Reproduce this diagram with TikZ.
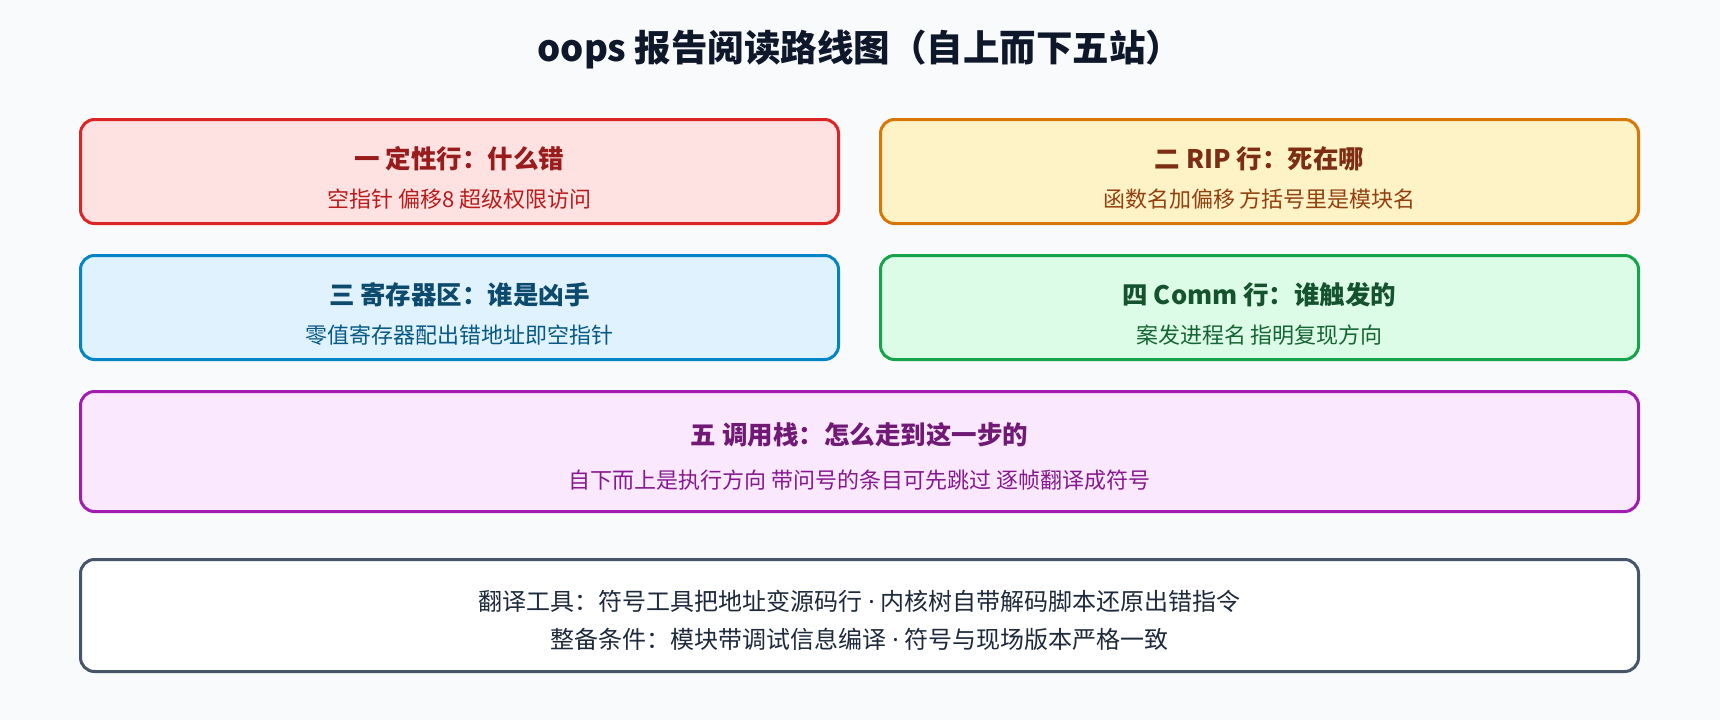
\documentclass[tikz,border=0pt]{standalone}
\usepackage{fontspec}
\setmainfont{Noto Sans CJK SC}
\newfontfamily\latinfont{Noto Sans}
\usetikzlibrary{positioning}

\definecolor{bgpage}{HTML}{F8FAFC}
\definecolor{ink}{HTML}{0F172A}
\definecolor{redline}{HTML}{DC2626}
\definecolor{redfill}{HTML}{FEE2E2}
\definecolor{redhead}{HTML}{991B1B}
\definecolor{rednote}{HTML}{B91C1C}
\definecolor{amberline}{HTML}{D97706}
\definecolor{amberfill}{HTML}{FEF3C7}
\definecolor{amberhead}{HTML}{7C2D12}
\definecolor{ambernote}{HTML}{92400E}
\definecolor{skyline}{HTML}{0284C7}
\definecolor{skyfill}{HTML}{E0F2FE}
\definecolor{skyhead}{HTML}{0C4A6E}
\definecolor{skynote}{HTML}{075985}
\definecolor{greenline}{HTML}{16A34A}
\definecolor{greenfill}{HTML}{DCFCE7}
\definecolor{greenhead}{HTML}{14532D}
\definecolor{greennote}{HTML}{166534}
\definecolor{plumline}{HTML}{A21CAF}
\definecolor{plumfill}{HTML}{FAE8FF}
\definecolor{plumhead}{HTML}{701A75}
\definecolor{plumnote}{HTML}{86198F}
\definecolor{slateline}{HTML}{475569}
\definecolor{slatetext}{HTML}{1E293B}

\newcommand{\middot}{ {\latinfont ·} }

\tikzset{
	card/.style={draw, line width=3pt, rounded corners=14pt, inner sep=0pt},
	halfcard/.style={card, minimum width=758pt, minimum height=104pt},
	cardhead/.style={font=\fontsize{25.5}{30}\selectfont\bfseries, inner sep=0pt},
	cardnote/.style={font=\fontsize{22}{26}\selectfont, inner sep=0pt},
	toolnote/.style={font=\fontsize{24}{28}\selectfont, inner sep=0pt, text=slatetext},
}

\begin{document}
\begin{tikzpicture}[x=1pt,y=-1pt]
		\fill[bgpage] (0,0) rectangle (1720,720);
		\node[font=\fontsize{36.5}{42}\selectfont\bfseries, text=ink, inner sep=0pt] (title) at (860,50) {oops 报告阅读路线图（自上而下五站）};
		
		% row one
		\node[halfcard, draw=redline, fill=redfill] (one) at (459.5,171.5) {};
		\node[cardhead, text=redhead] (onehead) at (459.5,159) {一 定性行：什么错};
		\node[cardnote, text=rednote] (onenote) at (459.5,199) {空指针 偏移8 超级权限访问};
		
		\node[halfcard, draw=amberline, fill=amberfill] (two) at (1259.5,171.5) {};
		\node[cardhead, text=amberhead] (twohead) at (1259.5,159) {二 RIP 行：死在哪};
		\node[cardnote, text=ambernote] (twonote) at (1259.5,199) {函数名加偏移 方括号里是模块名};
		
		% row two
		\node[halfcard, draw=skyline, fill=skyfill] (three) at (459.5,307.5) {};
		\node[cardhead, text=skyhead] (threehead) at (459.5,295) {三 寄存器区：谁是凶手};
		\node[cardnote, text=skynote] (threenote) at (459.5,335) {零值寄存器配出错地址即空指针};
		
		\node[halfcard, draw=greenline, fill=greenfill] (four) at (1259.5,307.5) {};
		\node[cardhead, text=greenhead] (fourhead) at (1259.5,295) {四 Comm 行：谁触发的};
		\node[cardnote, text=greennote] (fournote) at (1259.5,335) {案发进程名 指明复现方向};
		
		% call stack
		\node[card, draw=plumline, fill=plumfill, minimum width=1558pt, minimum height=120pt] (five) at (859.5,451.5) {};
		\node[cardhead, text=plumhead] (fivehead) at (859.5,435) {五 调用栈：怎么走到这一步的};
		\node[cardnote, text=plumnote] (fivenote) at (859.5,480) {自下而上是执行方向 带问号的条目可先跳过 逐帧翻译成符号};
		
		% tools
		\node[card, draw=slateline, fill=white, minimum width=1558pt, minimum height=112pt] (tools) at (859.5,615.5) {};
		\node[toolnote] (toolone) at (859.5,601) {翻译工具：符号工具把地址变源码行\middot 内核树自带解码脚本还原出错指令};
		\node[toolnote] (tooltwo) at (859.5,639) {整备条件：模块带调试信息编译\middot 符号与现场版本严格一致};
\end{tikzpicture}
\end{document}
